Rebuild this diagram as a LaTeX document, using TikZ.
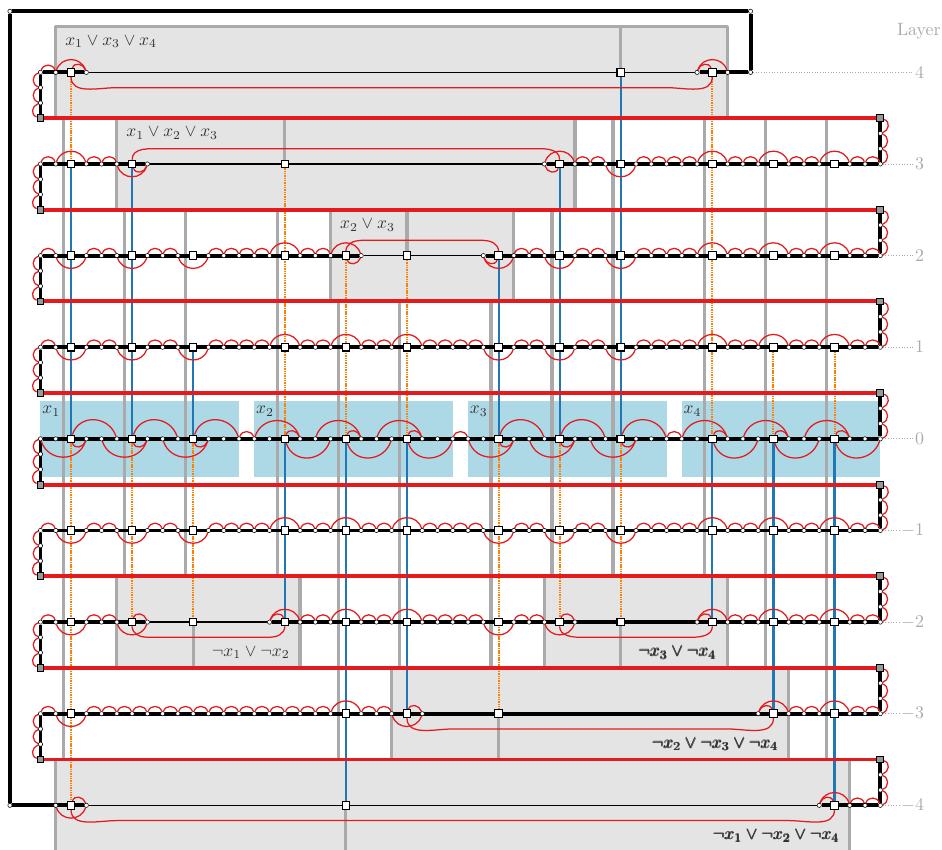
\documentclass[tikz,border=0pt]{standalone}
\usepackage{amsmath}
\usetikzlibrary{positioning}
\definecolor{wallgray}{HTML}{AAAAAA}
\definecolor{boxgray}{HTML}{E4E4E4}
\definecolor{hopred}{HTML}{E41A1C}
\definecolor{trueblue}{HTML}{1F78B4}
\definecolor{falseorange}{HTML}{FF7F00}
\definecolor{varblue}{HTML}{ADD8E6}
\pgfdeclarelayer{under}
\pgfsetlayers{under,main}
\newcommand{\wirerow}[3]{%
  \foreach \col in {#2} \node[vdot] (r#1c\col) at (\col,6*#1) {};
  \foreach \col in {#3} \node[vsq] (r#1c\col) at (\col,6*#1) {};
}
\newcommand{\ifhas}[2]{\if\relax\detokenize{#1}\relax\else#2\fi}
\newcommand{\hops}[5]{%
  \ifhas{#2}{\foreach \a [evaluate=\a as \b using int(\a+1)] in {#2} \draw[hop] (r#1c\a) to[archi] (r#1c\b);}
  \ifhas{#3}{\foreach \a [evaluate=\a as \b using int(\a+1)] in {#3} \draw[hop] (r#1c\a) to[arclo] (r#1c\b);}
  \ifhas{#4}{\foreach \s [evaluate=\s as \a using int(\s-1),evaluate=\s as \b using int(\s+1)] in {#4} \draw[hop] (r#1c\a) to[archi] (r#1c\b);}
  \ifhas{#5}{\foreach \s [evaluate=\s as \a using int(\s-1),evaluate=\s as \b using int(\s+1)] in {#5} \draw[hop] (r#1c\a) to[arclo] (r#1c\b);}
}
\newcommand{\clausebox}[5]{%
  \coordinate (#1a) at (#2,#4);
  \coordinate (#1b) at (#2,#5);
  \coordinate (#1c) at (#3,#5);
  \coordinate (#1d) at (#3,#4);
  \fill[boxfill] (#1a) rectangle (#1c);
  \draw[wall] (#1a) -- (#1b) -- (#1c) -- (#1d);
}
\newcommand{\clink}[6]{%
  \coordinate (k#1#2a) at ({#2+#6},{6*#1+#5});
  \coordinate (k#1#2b) at ({#3-#6},{6*#1+#5});
  \draw[hop] (r#1c#2) to[out=#4,in=180] (k#1#2a) -- (k#1#2b) to[out=0,in=#4] (r#1c#3);
}
\begin{document}
\begin{tikzpicture}[
  x=3mm,y=3mm,
  vdot/.style={circle,draw,fill=white,inner sep=0pt,minimum size=2.4pt,line width=.3pt},
  vsq/.style={rectangle,draw,fill=white,inner sep=0pt,minimum size=4.2pt,line width=.6pt},
  gate/.style={rectangle,draw,fill=gray!80,inner sep=0pt,minimum size=3.8pt,line width=.5pt},
  wire/.style={line width=2.2pt},
  thinwire/.style={line width=.85pt},
  redwire/.style={hopred,line width=2.2pt},
  wall/.style={wallgray,line width=1.8pt,line join=round},
  boxfill/.style={fill=boxgray},
  hop/.style={hopred,line width=.7pt},
  archi/.style={out=72,in=108,looseness=1.3},
  arclo/.style={out=-72,in=-108,looseness=1.3},
  archl/.style={out=198,in=162,looseness=1.3},
  archr/.style={out=-18,in=18,looseness=1.3},
  ison/.style={trueblue,line width=1.2pt},
  isoff/.style={falseorange,line width=1.1pt,dash pattern=on .8pt off .5pt},
  clauselab/.style={text=black!80,inner sep=0pt,scale=.97},
  layerlab/.style={text=wallgray,inner sep=1pt,anchor=east}
]
  \useasboundingbox (-2.652,28.74) rectangle (59.04,-26.92);

  \wirerow{4}{0,1,3,43,45}{2,38,44}
  \wirerow{3}{0,1,3,4,5,7,33,35,36,37,39,40,41,42,43,45,46,47,49,50,51,53,54,55}{2,6,16,34,38,44,48,52}
  \wirerow{2}{0,1,3,4,5,7,8,9,11,12,13,14,15,17,18,19,21,29,31,32,33,35,36,37,39,40,41,42,43,45,46,47,49,50,51,53,54,55}{2,6,10,16,20,24,30,34,38,44,48,52}
  \foreach \lay in {1,0,-1} {
    \wirerow{\lay}{0,1,3,4,5,7,8,9,11,12,13,14,15,17,18,19,21,22,23,25,26,27,28,29,31,32,33,35,36,37,39,40,41,42,43,45,46,47,49,50,51,53,54,55}{2,6,10,16,20,24,30,34,38,44,48,52}
  }
  \wirerow{-2}{0,1,3,4,5,7,15,17,18,19,21,22,23,25,26,27,28,29,31,32,33,35,43,45,46,47,49,50,51,53,54,55}{2,6,10,16,20,24,30,34,38,44,48,52}
  \wirerow{-3}{0,1,3,4,5,6,7,8,9,10,11,12,13,14,15,16,17,18,19,21,22,23,25,47,49,50,51,53,54,55}{2,20,24,30,48,52}
  \wirerow{-4}{1,3,51,53,54,55}{2,20,52}
  \node[vdot] (loopsw) at (-2,-24) {};
  \node[vdot] (loopnw) at (-2,28) {};
  \node[vdot] (loopne) at (46.5,28) {};
  \node[vdot] (loopse) at (46.5,24) {};
  \foreach \lay in {4,3,...,-3} {
    \node[gate] (gl\lay) at (0,6*\lay-3) {};
    \node[gate] (gr\lay) at (55,6*\lay-3) {};
    \node[vdot] (vl\lay a) at (0,6*\lay-1) {};
    \node[vdot] (vl\lay b) at (0,6*\lay-2) {};
    \node[vdot] (vr\lay a) at (55,6*\lay-4) {};
    \node[vdot] (vr\lay b) at (55,6*\lay-5) {};
  }
  \foreach \lay/\txt in {4/4,3/3,2/2,1/1,0/0,-1/-1,-2/-2,-3/-3,-4/-4}
    \node[layerlab] (lab\lay) at (58,6*\lay) {$\txt$};
  \node[layerlab,inner sep=0pt] (layertitle) at (58.97,26.72) {Layer};

  \node[clauselab,anchor=west] (c4lab) at (1.6,26) {$x_1\vee x_3\vee x_4$};
  \node[clauselab,anchor=west] (c3lab) at (5.6,20) {$x_1\vee x_2\vee x_3$};
  \node[clauselab,anchor=west] (c2lab) at (19.6,14) {$x_2\vee x_3$};
  \node[clauselab,anchor=east] (n2alab) at (16.34,-14) {$\neg x_1\vee\neg x_2$};
  \node[clauselab,anchor=east] (n2blab) at (44.3,-14) {\pmb{$\neg x_3\vee\neg x_4$}};
  \node[clauselab,anchor=east] (n3lab) at (48.36,-20) {\pmb{$\neg x_2\vee\neg x_3\vee\neg x_4$}};
  \node[clauselab,anchor=east] (n4lab) at (52.36,-26) {\pmb{$\neg x_1\vee\neg x_2\vee\neg x_4$}};
  \foreach \i/\xl in {1/.1,2/14.1,3/28.1,4/42.1}
    \node[clauselab,anchor=west] (var\i) at (\xl,1.8) {$x_\i$};

  \begin{pgfonlayer}{under}
    \foreach \i/\xa/\xb in {1/0/13,2/14/27,3/28/41,4/42/55}
      \fill[varblue] (\xa,2.5) rectangle (\xb,-2.5);
    \clausebox{c4}{1}{45}{21}{27}
    \clausebox{c3}{5}{35}{15}{21}
    \clausebox{c2}{19}{31}{9}{15}
    \clausebox{n2a}{5}{17}{-9}{-15}
    \clausebox{n2b}{33}{45}{-9}{-15}
    \clausebox{n3}{23}{49}{-15}{-21}
    \clausebox{n4}{1}{53}{-21}{-27}
    \foreach \w/\col/\ya/\yb in {a/1.5/21/-21,b/5.5/15/-9,c/9.5/15/-9,d/15.5/15/-9,e/19.5/9/-21,f/23.5/9/-15,g/29.5/9/-15,h/33.5/15/-9,i/37.5/21/-9,j/43.5/21/-9,k/47.5/21/-15,l/51.5/21/-21} {
      \coordinate (wt\w) at (\col,\ya);
      \coordinate (wb\w) at (\col,\yb);
      \draw[wall] (wt\w) -- (wb\w);
    }
    \foreach \lay/\col/\yy in {4/38/27,3/16/21,2/24/15,-2/10/-15,-2/38/-15,-3/30/-21,-4/20/-27} {
      \coordinate (st\lay\col) at (\col,\yy);
      \draw[wall] (r\lay c\col) -- (st\lay\col);
    }

    \foreach \from/\to in {r3c2/r0c2,r3c6/r0c6,r1c10/r0c10,r0c16/r-2c16,r0c20/r-4c20,r0c24/r-3c24,r2c30/r0c30,r3c34/r0c34,r4c38/r0c38,r0c44/r-2c44,r0c48/r-3c48,r0c52/r-4c52}
      \draw[ison] (\from) -- (\to);
    \foreach \from/\to in {r4c2/r3c2,r0c2/r-4c2,r0c6/r-2c6,r0c10/r-2c10,r3c16/r0c16,r2c20/r0c20,r2c24/r0c24,r0c30/r-3c30,r0c34/r-2c34,r0c38/r-2c38,r4c44/r0c44,r1c48/r0c48,r1c52/r0c52}
      \draw[isoff] (\from) -- (\to);

    \foreach \lay in {4,3,...,-3}
      \draw[redwire] (gl\lay) -- (gr\lay);

    \foreach \lay in {4,3,...,-3}
      \draw[wire] (r\lay c0) -- (gl\lay);
    \foreach \lay [evaluate=\lay as \nxt using int(\lay-1)] in {4,3,...,-3}
      \draw[wire] (gr\lay) -- (r\nxt c55);
    \foreach \lay in {1,0,-1,-3}
      \draw[wire] (r\lay c0) -- (r\lay c55);
    \foreach \lay/\a/\b/\e/\d in {3/0/7/33/55,2/0/21/29/55,-2/0/7/15/55} {
      \draw[wire] (r\lay c\a) -- (r\lay c\b);
      \draw[thinwire] (r\lay c\b) -- (r\lay c\e);
      \draw[wire] (r\lay c\e) -- (r\lay c\d);
    }
    \draw[wire] (r4c0) -- (r4c3);
    \draw[thinwire] (r4c3) -- (r4c43);
    \draw[wire] (r4c43) -- (loopse) -- (loopne) -- (loopnw) -- (loopsw) -- (r-4c3);
    \draw[thinwire] (r-4c3) -- (r-4c51);
    \draw[wire] (r-4c51) -- (r-4c55);

    \foreach \lay [evaluate=\lay as \nxt using int(\lay-1)] in {4,3,...,-3} {
      \draw[hop] (r\lay c0) to[archl] (vl\lay a);
      \draw[hop] (vl\lay a) to[archl] (vl\lay b);
      \draw[hop] (vl\lay b) to[archl] (gl\lay);
      \draw[hop] (gr\lay) to[archr] (vr\lay a);
      \draw[hop] (vr\lay a) to[archr] (vr\lay b);
      \draw[hop] (vr\lay b) to[archr] (r\nxt c55);
    }

    \hops{4}{0,2,43}{}{2,44}{}
    \hops{3}{0,3,4,35,36,39,40,41,42,45,46,49,50,53,54}{6,33}{2,34,44,48,52}{6,38}
    \hops{2}{0,3,4,7,8,11,12,13,14,17,18,31,32,35,36,39,40,41,42,45,46,49,50,53,54}{20,29}{16,20,44,48,52}{2,6,10,30,34,38}
    \foreach \lay in {1,-1} {
      \hops{\lay}{0,3,4,7,8,11,12,13,14,17,18,21,22,25,26,27,28,31,32,35,36,39,40,41,42,45,46,49,50,53,54}{}{16,20,24,44,48,52}{2,6,10,30,34,38}
    }
    \hops{-2}{0,3,4,6,15,17,18,21,22,25,26,27,28,31,32,34,43,45,46,49,50,53,54}{}{16,20,24,44,48,52}{2,6,30,34}
    \hops{-3}{0,3,4,5,6,7,8,9,10,11,12,13,14,15,16,17,18,21,22,24,47,49,50,53,54}{}{20,48,52}{2,24}
    \hops{-4}{2,51,53,54}{}{52}{2}

    \hops{0}{13,27,41,16,20,24,44,48,52}{2,6,10,30,34,38}{}{}
    \foreach \s [evaluate=\s as \a using int(\s-2),evaluate=\s as \m using int(\s+1),evaluate=\s as \b using int(\s+3)] in {2,6,10,30,34,38} {
      \draw[hop] (r0c\a) to[arclo] (r0c\m);
      \draw[hop] (r0c\s) to[archi] (r0c\b);
    }
    \foreach \s [evaluate=\s as \a using int(\s-2),evaluate=\s as \m using int(\s+1),evaluate=\s as \b using int(\s+3)] in {16,20,24,44,48,52} {
      \draw[hop] (r0c\a) to[archi] (r0c\m);
      \draw[hop] (r0c\s) to[arclo] (r0c\b);
    }

    \clink{4}{2}{44}{-90}{-1}{3}
    \clink{3}{6}{34}{90}{1}{2}
    \clink{2}{20}{30}{90}{1}{1}
    \clink{-2}{6}{16}{-90}{-1}{1}
    \clink{-2}{34}{44}{-90}{-1}{1.5}
    \clink{-3}{24}{48}{-90}{-1}{3}
    \clink{-4}{2}{52}{-90}{-1}{3}

    \draw[densely dotted,wallgray,line width=.5pt] (loopse) -- (lab4);
    \foreach \lay in {3,2,...,-4}
      \draw[densely dotted,wallgray,line width=.5pt] (r\lay c55) -- (lab\lay);
  \end{pgfonlayer}
\end{tikzpicture}
\end{document}
